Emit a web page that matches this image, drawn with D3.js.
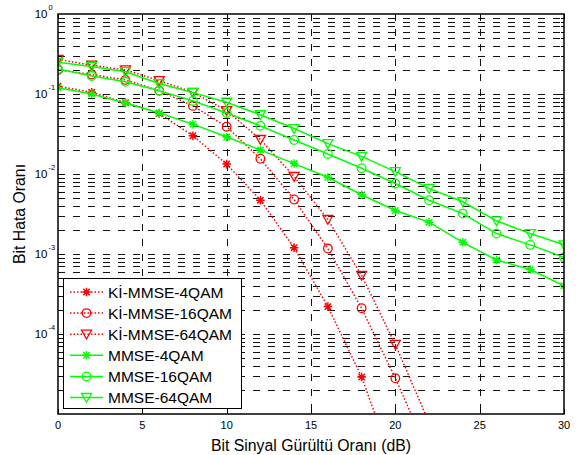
<!DOCTYPE html>
<html lang="tr">
<head>
<meta charset="UTF-8">
<title>Bit Hata Oranı</title>
<script src="https://d3js.org/d3.v7.min.js"></script>
<style>
    body { margin: 0; background: #fff; }
    svg { display: block; font-family: 'Liberation Sans', Arial, sans-serif; }
    .grid line { stroke: #111; stroke-width: 1; stroke-dasharray: 7, 8; shape-rendering: crispEdges; }
    .tick-mark { stroke: #000; stroke-width: 1; shape-rendering: crispEdges; }
</style>
</head>
<body>
<svg id="chart" width="578" height="455"></svg>
<script>
// SNR points (dB)
const snrKi = [0, 2, 4, 6, 8, 10, 12, 14, 16, 18, 20, 22];
const snrMmse = [0, 2, 4, 6, 8, 10, 12, 14, 16, 18, 20, 22, 24, 26, 28, 30];

// bit error rates
const ki4 = [0.125, 0.105, 0.078, 0.057, 0.030, 0.0133, 0.0047, 0.0012, 2.2e-4, 2.9e-5, 2.0e-6];
const ki16 = [0.20, 0.175, 0.15, 0.11, 0.071, 0.039, 0.0155, 0.0048, 0.00117, 2.1e-4, 2.8e-5, 3.1e-6];
const ki64 = [0.27, 0.23, 0.20, 0.147, 0.105, 0.062, 0.027, 0.0093, 0.0027, 5.4e-4, 7.4e-5, 7.8e-6];
const mmse4 = [0.12, 0.10, 0.077, 0.058, 0.042, 0.029, 0.020, 0.0135, 0.0091, 0.0055, 0.0035, 0.0025, 0.0014, 8.4e-4, 6.4e-4, 4.0e-4];
const mmse16 = [0.205, 0.168, 0.142, 0.11, 0.082, 0.058, 0.040, 0.0266, 0.0178, 0.0118, 0.0076, 0.0047, 0.0032, 0.0018, 0.0013, 9.1e-4];
const mmse64 = [0.25, 0.22, 0.19, 0.135, 0.104, 0.079, 0.055, 0.037, 0.024, 0.0166, 0.0107, 0.0066, 0.0045, 0.0026, 0.0018, 0.0013];

const legendLabels = ['Kİ-MMSE-4QAM', 'Kİ-MMSE-16QAM', 'Kİ-MMSE-64QAM', 'MMSE-4QAM', 'MMSE-16QAM', 'MMSE-64QAM'];
const xTicks = [0, 5, 10, 15, 20, 25, 30];
const yExps = [0, -1, -2, -3, -4];

const series = [
    { name: legendLabels[0], x: snrKi, y: ki4, color: '#ff0000', dotted: true, marker: 'star' },
    { name: legendLabels[1], x: snrKi, y: ki16, color: '#ff0000', dotted: true, marker: 'circle' },
    { name: legendLabels[2], x: snrKi, y: ki64, color: '#ff0000', dotted: true, marker: 'tri' },
    { name: legendLabels[3], x: snrMmse, y: mmse4, color: '#00ff00', dotted: false, marker: 'star' },
    { name: legendLabels[4], x: snrMmse, y: mmse16, color: '#00ff00', dotted: false, marker: 'circle' },
    { name: legendLabels[5], x: snrMmse, y: mmse64, color: '#00ff00', dotted: false, marker: 'tri' }
];

const margin = { top: 14, right: 14, bottom: 41, left: 58 };
const W = 578, H = 455;
const pw = W - margin.left - margin.right;
const ph = H - margin.top - margin.bottom;

const svg = d3.select('#chart');
const g = svg.append('g').attr('transform', `translate(${margin.left},${margin.top})`);

const x = d3.scaleLinear().domain([0, 30]).range([0, pw]);
const y = d3.scaleLog().domain([1e-5, 1]).range([ph, 0]);

g.append('rect').attr('width', pw).attr('height', ph).attr('fill', '#fff');

// minor + major y positions
const minorY = [];
for (let e = -5; e < 0; e++) {
    for (let k = 2; k <= 9; k++) minorY.push(k * Math.pow(10, e));
}
const majorY = yExps.map(e => Math.pow(10, e)).filter(v => v < 1);

const grid = g.append('g').attr('class', 'grid');
grid.selectAll('.hy').data(minorY.concat(majorY)).enter().append('line')
    .attr('x1', 0).attr('x2', pw)
    .attr('y1', d => Math.round(y(d)) + 0.5).attr('y2', d => Math.round(y(d)) + 0.5);
grid.selectAll('.vx').data(xTicks.slice(1, -1)).enter().append('line')
    .attr('y1', 0).attr('y2', ph)
    .attr('x1', d => Math.round(x(d)) + 0.5).attr('x2', d => Math.round(x(d)) + 0.5);

// data
svg.append('defs').append('clipPath').attr('id', 'clip')
    .append('rect').attr('width', pw).attr('height', ph);
const plot = g.append('g').attr('clip-path', 'url(#clip)');

const line = d3.line().x(d => x(d[0])).y(d => y(d[1]));

function drawMarker(sel, type, color) {
    if (type === 'circle') {
        sel.append('circle').attr('r', 4.3).attr('fill', 'none').attr('stroke', color).attr('stroke-width', 1.3);
    } else if (type === 'tri') {
        sel.append('path').attr('d', 'M-5,-4L5,-4L0,4.8Z')
            .attr('fill', 'none').attr('stroke', color).attr('stroke-width', 1.3);
    } else {
        sel.append('path').attr('d', 'M-4.3,0H4.3M0,-4.3V4.3M-3.2,-3.2L3.2,3.2M-3.2,3.2L3.2,-3.2')
            .attr('stroke', color).attr('stroke-width', 1.5);
    }
}

series.forEach(s => {
    const pts = s.y.map((v, i) => [s.x[i], v]);
    plot.append('path').datum(pts)
        .attr('d', line)
        .attr('fill', 'none')
        .attr('stroke', s.color)
        .attr('stroke-width', 1.5)
        .attr('stroke-dasharray', s.dotted ? '1.5,2' : null);
    plot.selectAll(null).data(pts).enter().append('g')
        .attr('transform', d => `translate(${x(d[0])},${y(d[1])})`)
        .each(function () { drawMarker(d3.select(this), s.marker, s.color); });
});

// ticks (inside, both sides)
const ticks = g.append('g');
xTicks.forEach(t => {
    const px = Math.round(x(t)) + 0.5;
    ticks.append('line').attr('class', 'tick-mark').attr('x1', px).attr('x2', px).attr('y1', ph).attr('y2', ph - 5);
    ticks.append('line').attr('class', 'tick-mark').attr('x1', px).attr('x2', px).attr('y1', 0).attr('y2', 5);
    g.append('text').attr('x', x(t)).attr('y', ph + 15)
        .attr('text-anchor', 'middle').attr('font-size', 11).attr('fill', '#000').text(t);
});
minorY.forEach(v => {
    const py = Math.round(y(v)) + 0.5;
    ticks.append('line').attr('class', 'tick-mark').attr('x1', 0).attr('x2', 3).attr('y1', py).attr('y2', py);
    ticks.append('line').attr('class', 'tick-mark').attr('x1', pw).attr('x2', pw - 3).attr('y1', py).attr('y2', py);
});
majorY.forEach(v => {
    const py = Math.round(y(v)) + 0.5;
    ticks.append('line').attr('class', 'tick-mark').attr('x1', 0).attr('x2', 5).attr('y1', py).attr('y2', py);
    ticks.append('line').attr('class', 'tick-mark').attr('x1', pw).attr('x2', pw - 5).attr('y1', py).attr('y2', py);
});
yExps.forEach(e => {
    const py = y(Math.pow(10, e));
    g.append('text').attr('x', -10.5).attr('y', py + 4)
        .attr('text-anchor', 'end').attr('font-size', 11.5).attr('fill', '#000').text('10');
    g.append('text').attr('x', -9.5).attr('y', py - 4)
        .attr('font-size', 7.5).attr('fill', '#000').text(e);
});

// frame
g.append('rect').attr('width', pw).attr('height', ph)
    .attr('fill', 'none').attr('stroke', '#000').attr('stroke-width', 1.5);

// axis titles
svg.append('text').attr('x', margin.left + pw / 2).attr('y', 451)
    .attr('text-anchor', 'middle').attr('font-size', 15.8).attr('fill', '#000')
    .text('Bit Sinyal Gürültü Oranı (dB)');
svg.append('text').attr('transform', `translate(25,${margin.top + ph / 2}) rotate(-90)`)
    .attr('text-anchor', 'middle').attr('font-size', 15.8).attr('fill', '#000')
    .text('Bit Hata Oranı');

// legend
const lg = svg.append('g').attr('transform', 'translate(63.5,278.5)');
lg.append('rect').attr('width', 178).attr('height', 130)
    .attr('fill', '#fff').attr('stroke', '#000').attr('stroke-width', 1);
series.forEach((s, i) => {
    const row = lg.append('g').attr('transform', `translate(0,${13.5 + i * 21.1})`);
    row.append('line').attr('x1', 6.5).attr('x2', 39.5).attr('y1', 0).attr('y2', 0)
        .attr('stroke', s.color).attr('stroke-width', 1.5)
        .attr('stroke-dasharray', s.dotted ? '1.5,2' : null);
    drawMarker(row.append('g').attr('transform', 'translate(23,0)'), s.marker, s.color);
    row.append('text').attr('x', 44.5).attr('y', 5.5).attr('font-size', 15.5).attr('fill', '#000').text(s.name);
});
</script>
</body>
</html>
